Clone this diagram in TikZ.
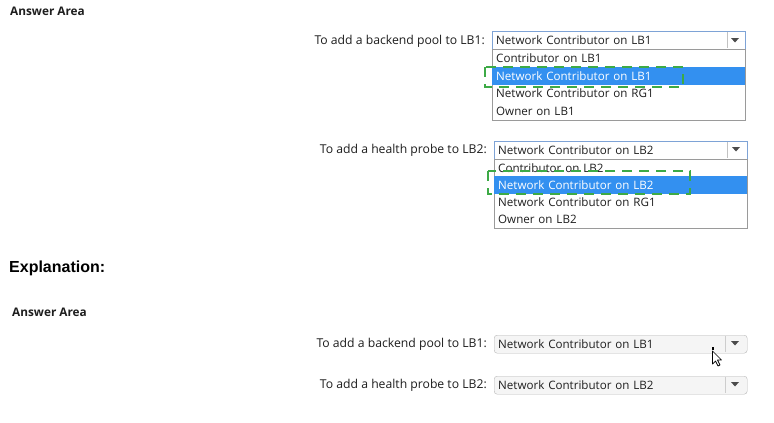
\documentclass[tikz,border=0pt]{standalone}
\usepackage{fontspec}
\setmainfont{Open Sans}
\newfontfamily\arialfont{Liberation Sans}
\usetikzlibrary{matrix}
\definecolor{selblue}{HTML}{3390F0}
\definecolor{hdrblue}{HTML}{7EA3D6}
\definecolor{listgray}{HTML}{9A9A9A}
\definecolor{markgreen}{HTML}{3DAA46}
\definecolor{inkgray}{HTML}{1E1E1E}
\tikzset{ask/.style={anchor=east, inner sep=0pt, text=inkgray, font=\fontsize{12.2}{14}\selectfont}}
\tikzset{head/.style={anchor=west, inner sep=0pt, text=inkgray, font=\bfseries\fontsize{11.8}{14}\selectfont}}
\tikzset{pick/.style={
   draw=hdrblue, fill=white, anchor=north west,
   text width=245pt, align=left, inner xsep=4pt, inner ysep=0pt,
   minimum height=18pt, text=inkgray, font=\fontsize{11.6}{13}\selectfont
}}
\tikzset{done/.style={pick, draw=listgray!70, fill=black!4, rounded corners=3pt}}
\tikzset{droplist/.style = {
   matrix of nodes, anchor=north west,
   draw=listgray, fill=white, inner sep=0pt,
   row sep=0pt,
   nodes={text width=245pt, align=left, inner xsep=4pt, inner ysep=0pt,
          minimum height=#1, text=inkgray, font=\fontsize{11.6}{13}\selectfont}
}}
\tikzset{chosen/.style={fill=selblue, text=white}}
\tikzset{markbox/.style={draw=markgreen, line width=1.6pt, dash pattern=on 10pt off 7pt}}
\tikzset{arrowtri/.style={fill=inkgray!80}}

\begin{document}
\begin{tikzpicture}[x=1pt,y=-1pt]
    \useasboundingbox[fill=white] (0,0) rectangle (774,423);

    \node[head] (area1) at (10,11) {Answer Area};

    % first question, list open
    \node[ask] (q1) at (485,41) {To add a backend pool to LB1:};
    \node[pick] (p1) at (492,31) {Network Contributor on LB1};
    \draw[listgray!60] (727,32) -- (727,48);
    \fill[arrowtri] (731,38) -- (739,38) -- (735,42.5) -- cycle;
    \matrix[droplist=17.75pt] (l1) at (492,49) {
      Contributor on LB1 \\
      |[chosen]| Network Contributor on LB1 \\
      Network Contributor on RG1 \\
      Owner on LB1 \\
    } ;
    \draw[markbox] (485,67) rectangle (683,87);

    % second question, list open
    \node[ask] (q2) at (487,150) {To add a health probe to LB2:};
    \node[pick] (p2) at (494,141) {Network Contributor on LB2};
    \draw[listgray!60] (727,142) -- (727,158);
    \fill[arrowtri] (732,147) -- (740,147) -- (736,151.5) -- cycle;
    \matrix[droplist=17.25pt] (l2) at (494,159) {
      Contributor on LB2 \\
      |[chosen]| Network Contributor on LB2 \\
      Network Contributor on RG1 \\
      Owner on LB2 \\
    } ;
    \draw[markbox] (488,171) rectangle (690,194);

    \node[head, font=\arialfont\bfseries\fontsize{16}{18}\selectfont, text=black] (expl) at (9,268) {Explanation:};
    \node[head] (area2) at (12,312) {Answer Area};

    % answers
    \node[ask] (a1) at (487,344) {To add a backend pool to LB1:};
    \node[done] (d1) at (494,335) {Network Contributor on LB1};
    \draw[listgray!50] (725,336) -- (725,352);
    \fill[arrowtri] (731,341) -- (739,341) -- (735,345.5) -- cycle;

    \node[ask] (a2) at (487,385) {To add a health probe to LB2:};
    \node[done] (d2) at (494,376) {Network Contributor on LB2};
    \draw[listgray!50] (725,377) -- (725,393);
    \fill[arrowtri] (731,382) -- (739,382) -- (735,386.5) -- cycle;

    % pointer
    \fill[black] (711.5,347) rectangle (713.5,349.5);
    \draw[fill=white, line width=0.7pt, line join=round]
      (712.5,351) -- (712.5,364) -- (715.5,361) -- (718,366) -- (720,365) -- (717.5,360) -- (721.5,360) -- cycle;

  \end{tikzpicture}
\end{document}
